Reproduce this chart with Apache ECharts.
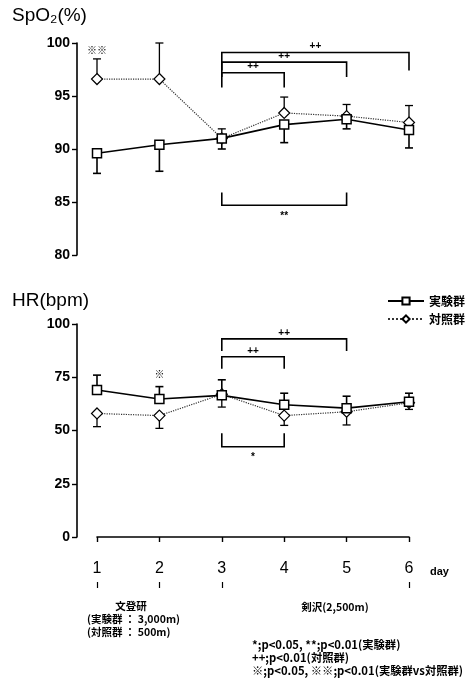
<!DOCTYPE html>
<html>
<head>
<meta charset="utf-8">
<script src="https://cdn.jsdelivr.net/npm/echarts@6/dist/echarts.min.js"></script>
<style>
  html, body { margin: 0; padding: 0; background: #fff; }
  #chart { width: 472px; height: 681px; }
</style>
</head>
<body>
<div id="chart"></div>
<script>
// 日数
const days = [1, 2, 3, 4, 5, 6]

// SpO2 (%) 平均値と SD（実験群は下向き、対照群は上向きのエラーバー）
const spo2Exp = [89.6, 90.4, 91.0, 92.3, 92.8, 91.8]
const spo2ExpSd = [1.9, 2.5, 1.0, 1.7, 0.9, 1.7]
const spo2Ctl = [96.6, 96.6, 91.0, 93.4, 93.1, 92.5]
const spo2CtlSd = [1.9, 3.4, 0.9, 1.5, 1.1, 1.6]

// HR (bpm)（実験群は上向き、対照群は下向き）
const hrExp = [69.0, 64.8, 66.5, 62.1, 60.5, 63.5]
const hrExpSd = [7.0, 5.8, 7.3, 5.4, 5.6, 4.0]
const hrCtl = [58.0, 57.0, 67.0, 57.0, 58.8, 63.0]
const hrCtlSd = [6.2, 6.0, 6.0, 4.6, 6.2, 3.1]

// 有意差ブラケット [開始日, 終了日, 横線の値, 脚の端の値]
const spo2Brackets = [[3, 6, 99.1, 97.4], [3, 5, 98.2, 96.8], [3, 4, 97.2, 95.8], [3, 5, 84.7, 85.9]]
const spo2BracketLabels = ['++', '++', '++', '**']
const hrBrackets = [[3, 5, 93.0, 87.3], [3, 4, 84.6, 79.0], [3, 4, 42.4, 48.7]]
const hrBracketLabels = ['++', '++', '*']

// 群間比較の印
const spo2Marks = [[1, 99.3]]
const spo2MarkLabels = ['※※']
const hrMarks = [[2, 76.5]]
const hrMarkLabels = ['※']

const yTicksSpo2 = [80, 100, 5]
const yTicksHr = [0, 100, 25]
const periodTicks = [1, 2, 3, 6]

const FONT = '"Liberation Sans", "Noto Sans CJK JP", sans-serif'
const JP = '"Noto Sans CJK JP", "Liberation Sans", sans-serif'

function errorBarItem(width) {
  return function (params, api) {
    const x = api.value(0)
    const p0 = api.coord([x, api.value(1)])
    const p1 = api.coord([x, api.value(2)])
    const st = { stroke: '#000', lineWidth: width }
    return {
      type: 'group',
      children: [
        { type: 'line', shape: { x1: p0[0], y1: p0[1], x2: p1[0], y2: p1[1] }, style: st },
        { type: 'line', shape: { x1: p1[0] - 4, y1: p1[1], x2: p1[0] + 4, y2: p1[1] }, style: st }
      ]
    }
  }
}

function bracketItem(labels) {
  return function (params, api) {
    const y = api.value(2)
    const end = api.value(3)
    const a = api.coord([api.value(0), end])
    const b = api.coord([api.value(0), y])
    const c = api.coord([api.value(1), y])
    const d = api.coord([api.value(1), end])
    const above = end < y
    return {
      type: 'group',
      children: [
        { type: 'polyline', shape: { points: [a, b, c, d] }, style: { stroke: '#000', lineWidth: 1.6, fill: null } },
        {
          type: 'text', x: (b[0] + c[0]) / 2, y: b[1] + (above ? -6 : 11),
          style: { text: labels[params.dataIndex], align: 'center', verticalAlign: 'middle', fontSize: 10, fontWeight: 'bold', fontFamily: FONT, fill: '#000' }
        }
      ]
    }
  }
}

function markItem(labels) {
  return function (params, api) {
    const p = api.coord([api.value(0), api.value(1)])
    return {
      type: 'text', x: p[0], y: p[1],
      style: { text: labels[params.dataIndex], align: 'center', verticalAlign: 'middle', fontSize: 10, fontWeight: 'bold', fontFamily: JP, fill: '#000' }
    }
  }
}

const pairs = (vals) => days.map((d, i) => [d, vals[i]])
const bars = (vals, sd, sign) => days.map((d, i) => [d, vals[i], vals[i] + sign * sd[i]])

const yAxisBase = (range, grid) => ({
  type: 'value', gridIndex: grid, min: range[0], max: range[1], interval: range[2],
  offset: 20,
  axisLine: { show: true, lineStyle: { color: '#000', width: 1.6 } },
  axisTick: { show: true, length: 5, lineStyle: { color: '#000', width: 1.4 } },
  axisLabel: { color: '#000', fontSize: 14, fontWeight: 'bold', fontFamily: FONT, margin: 7 },
  splitLine: { show: false }
})

const expLine = {
  type: 'line', name: '実験群', symbol: 'rect', symbolSize: 9, z: 4,
  lineStyle: { color: '#000', width: 1.6 },
  itemStyle: { color: '#fff', borderColor: '#000', borderWidth: 1.5 }
}
const ctlLine = {
  type: 'line', name: '対照群', symbol: 'diamond', symbolSize: 11, z: 3,
  lineStyle: { color: '#333', width: 1.2, type: 'dotted' },
  itemStyle: { color: '#fff', borderColor: '#000', borderWidth: 1.2 }
}

const noteStyle = (text, size) => ({ text: text, verticalAlign: 'middle', fontSize: size, fontWeight: 'bold', fontFamily: JP, fill: '#000' })

const chart = echarts.init(document.getElementById('chart'))

chart.setOption({
  backgroundColor: '#fff',
  animation: false,
  title: [
    { text: 'SpO₂(%)', left: 12, top: 6, padding: 0, textStyle: { fontSize: 19, fontWeight: 'normal', fontFamily: FONT, color: '#000' } },
    { text: 'HR(bpm)', left: 12, top: 291, padding: 0, textStyle: { fontSize: 19, fontWeight: 'normal', fontFamily: FONT, color: '#000' } }
  ],
  legend: {
    data: ['実験群', '対照群'], orient: 'vertical', left: 382, top: 290,
    itemWidth: 36, itemHeight: 9, itemGap: 6,
    textStyle: { fontSize: 12, fontWeight: 'bold', fontFamily: JP, color: '#000' }
  },
  grid: [
    { left: 97, right: 63, top: 43, height: 212 },
    { left: 97, right: 63, top: 324, height: 213 }
  ],
  xAxis: [
    { type: 'value', gridIndex: 0, min: 1, max: 6, interval: 1, show: false },
    {
      type: 'value', gridIndex: 1, position: 'bottom', min: 1, max: 6, interval: 1, offset: 15,
      axisLine: { show: true, lineStyle: { color: '#000', width: 1.6 } },
      axisTick: { show: true, length: 5, lineStyle: { color: '#000', width: 1.4 } },
      axisLabel: { color: '#000', fontSize: 16, fontFamily: FONT, margin: 9 },
      splitLine: { show: false }
    },
    {
      type: 'value', gridIndex: 1, position: 'bottom', min: 1, max: 6, interval: 1, offset: 45,
      axisLine: { show: false },
      axisTick: { show: true, length: 6, customValues: periodTicks, lineStyle: { color: '#000', width: 1.2 } },
      axisLabel: { show: false },
      splitLine: { show: false }
    }
  ],
  yAxis: [yAxisBase(yTicksSpo2, 0), yAxisBase(yTicksHr, 1)],
  series: [
    { type: 'custom', xAxisIndex: 0, yAxisIndex: 0, z: 1, renderItem: errorBarItem(1.6), data: bars(spo2Exp, spo2ExpSd, -1), encode: { x: 0, y: [1, 2] } },
    { type: 'custom', xAxisIndex: 0, yAxisIndex: 0, z: 1, renderItem: errorBarItem(1.3), data: bars(spo2Ctl, spo2CtlSd, 1), encode: { x: 0, y: [1, 2] } },
    { type: 'custom', xAxisIndex: 1, yAxisIndex: 1, z: 1, renderItem: errorBarItem(1.6), data: bars(hrExp, hrExpSd, 1), encode: { x: 0, y: [1, 2] } },
    { type: 'custom', xAxisIndex: 1, yAxisIndex: 1, z: 1, renderItem: errorBarItem(1.3), data: bars(hrCtl, hrCtlSd, -1), encode: { x: 0, y: [1, 2] } },
    Object.assign({}, ctlLine, { xAxisIndex: 0, yAxisIndex: 0, data: pairs(spo2Ctl) }),
    Object.assign({}, expLine, { xAxisIndex: 0, yAxisIndex: 0, data: pairs(spo2Exp) }),
    Object.assign({}, ctlLine, { xAxisIndex: 1, yAxisIndex: 1, data: pairs(hrCtl) }),
    Object.assign({}, expLine, { xAxisIndex: 1, yAxisIndex: 1, data: pairs(hrExp) }),
    { type: 'custom', xAxisIndex: 0, yAxisIndex: 0, renderItem: bracketItem(spo2BracketLabels), data: spo2Brackets, encode: { x: [0, 1], y: [2, 3] } },
    { type: 'custom', xAxisIndex: 1, yAxisIndex: 1, renderItem: bracketItem(hrBracketLabels), data: hrBrackets, encode: { x: [0, 1], y: [2, 3] } },
    { type: 'custom', xAxisIndex: 0, yAxisIndex: 0, renderItem: markItem(spo2MarkLabels), data: spo2Marks, encode: { x: 0, y: 1 } },
    { type: 'custom', xAxisIndex: 1, yAxisIndex: 1, renderItem: markItem(hrMarkLabels), data: hrMarks, encode: { x: 0, y: 1 } }
  ],
  graphic: [
    { type: 'text', left: 430, top: 566, style: { text: 'day', fontSize: 11, fontWeight: 'bold', fontFamily: FONT, fill: '#000' } },
    { type: 'text', x: 131, y: 606, style: Object.assign(noteStyle('文登研', 10.5), { align: 'center' }) },
    { type: 'text', x: 87, y: 619, style: noteStyle('(実験群 ： 3,000m)', 10.5) },
    { type: 'text', x: 87, y: 632, style: noteStyle('(対照群 ： 500m)', 10.5) },
    { type: 'text', x: 335, y: 607, style: Object.assign(noteStyle('剣沢(2,500m)', 10.5), { align: 'center' }) },
    { type: 'text', x: 252, y: 645, style: noteStyle('*;p<0.05, **;p<0.01(実験群)', 11.3) },
    { type: 'text', x: 252, y: 658, style: noteStyle('++;p<0.01(対照群)', 11.3) },
    { type: 'text', x: 252, y: 671, style: noteStyle('※;p<0.05, ※※;p<0.01(実験群vs対照群)', 11.3) }
  ]
})

window.addEventListener('resize', () => chart.resize())
</script>
</body>
</html>
